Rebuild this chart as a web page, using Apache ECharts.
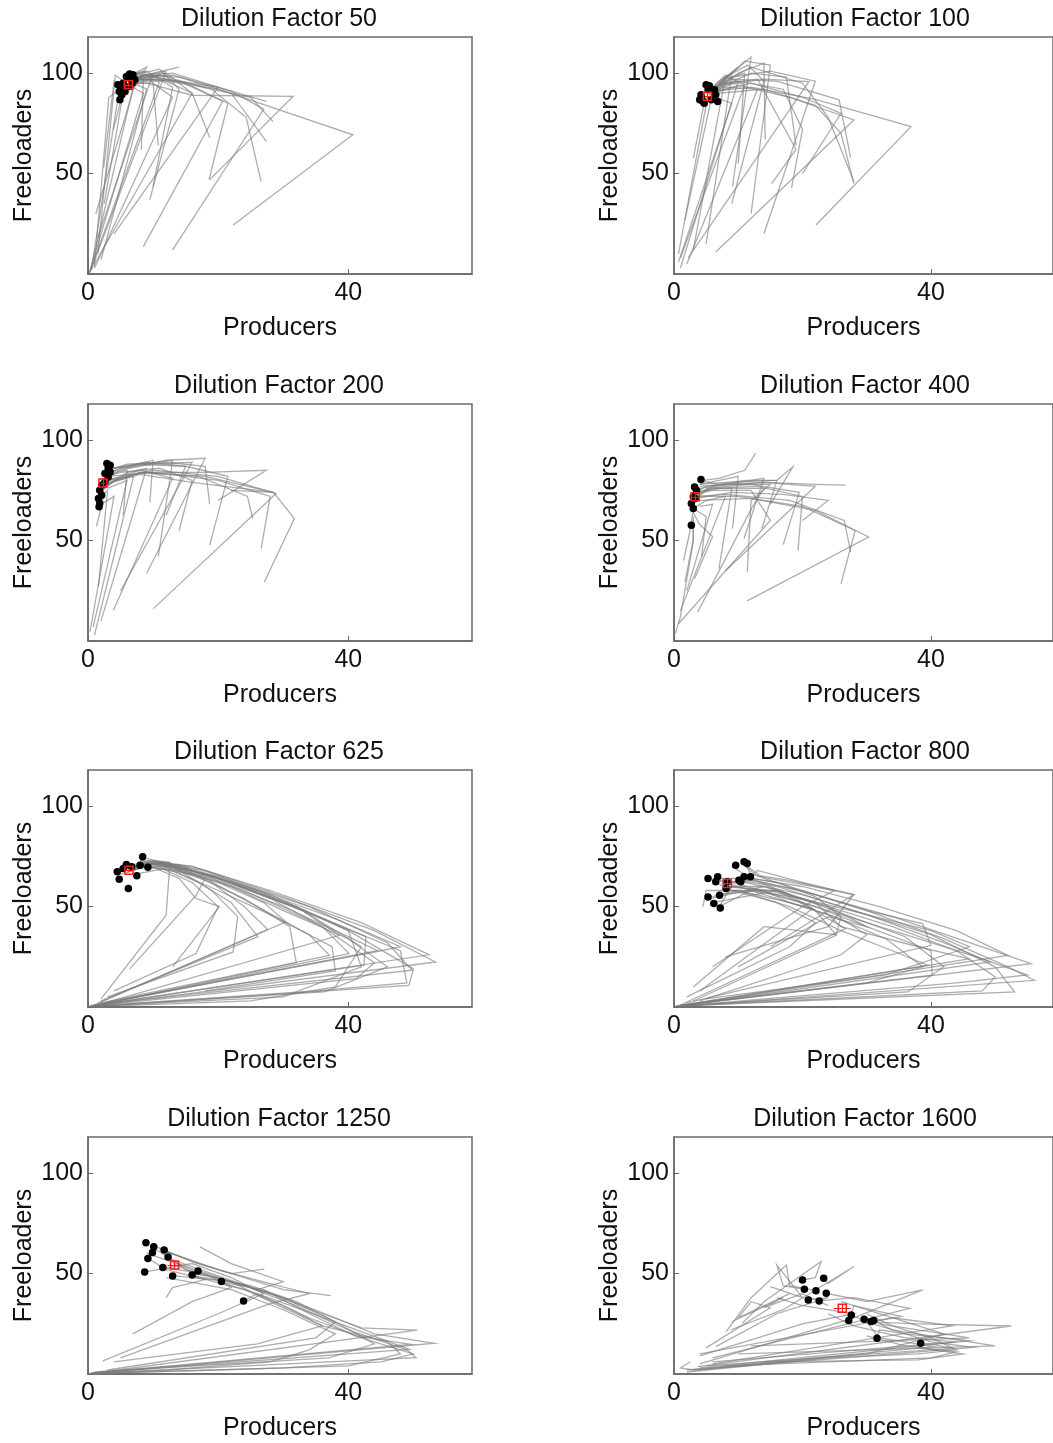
<!DOCTYPE html>
<html>
<head>
<meta charset="utf-8">
<script src="https://cdn.jsdelivr.net/npm/echarts@6/dist/echarts.min.js"></script>
<style>
html,body{margin:0;padding:0;background:#fff;}
#chart{width:1053px;height:1443px;}
</style>
</head>
<body>
<div id="chart"></div>
<script>
// ---------- data ----------
const dilutionFactors = [50, 100, 200, 400, 625, 800, 1250, 1600];
const xTicks = [0, 40];
const yTicks = [50, 100];

// trajectories [producers, freeloaders]
const traj50 = [
  [[0.2,0.5],[8.5,90],[6.3,94]],
  [[0.5,2],[5,96],[6,95]],
  [[1.5,10],[4.2,99],[5.5,96]],
  [[2,7],[9,92],[7,95]],
  [[0.2,0.5],[11,96],[8,97],[6.5,96]],
  [[1,4],[3.2,88],[5,92]],
  [[2.4,53],[4,96],[5.2,94]],
  [[8.5,13.6],[20.7,86],[14,96],[8,97],[6.5,95]],
  [[22.3,24.4],[40.7,69.3],[20,92],[10,98],[7,96]],
  [[26.6,46],[24.3,78],[19,92],[11,99],[7,97]],
  [[18.6,47],[21.5,85],[15,95],[9,99],[6.8,97]],
  [[27.4,66],[22,90],[14,98],[8,99]],
  [[28.4,76],[25,88],[16,94],[10,97],[7,96]],
  [[18.7,68],[16,90],[12,100],[8,99]],
  [[10,43.5],[13,93],[9,101],[6.5,99]],
  [[9.5,37],[14,92],[11,102],[7,99]],
  [[10.8,64],[10,95],[8.5,101],[6,99]],
  [[8.2,62],[8.5,97],[7,99]],
  [[3.9,72],[6,98],[6,96]],
  [[18.7,47],[31.5,88.4],[16,89],[9,95],[6.5,95]],
  [[27.4,86],[20,93],[12,97],[7,97]],
  [[13,12],[27,82],[22,91],[13,99],[8,98]],
  [[0.3,1],[16,90],[12,96],[7,96]],
  [[1,3],[13,88],[10,95],[6.5,95]],
  [[4,20],[20,93],[13,100],[7,98]],
  [[1.2,30],[7,92],[9,103],[6,98]],
  [[0.8,5],[12,101],[9,99],[6.5,97]],
  [[1.5,18],[10,100],[14,103],[10,100],[7,98]],
  [[0.4,2],[7,94],[11,99],[7.5,97]],
  [[2.5,35],[5.5,92],[8,100],[6.5,98]]
];
const traj100 = [
  [[22.1,24.4],[36.9,73.4],[22,87],[12,93],[6.5,91]],
  [[6.5,11],[28,76.7],[18,88],[10,94],[6,90]],
  [[28,45],[26,70],[22,84],[14,92],[7,90]],
  [[18.3,42.7],[20,72],[17,92],[10,96],[6,91]],
  [[15.2,45],[19,62],[13,97],[8,95]],
  [[14.2,67],[14,105],[10,100],[6.5,92]],
  [[19,64],[17.5,98],[12,100],[7,93]],
  [[9.1,43.5],[12,108],[9,100],[6,92]],
  [[2.2,8],[21,95.8],[14,97],[8,94],[6,90]],
  [[0.7,10],[5,84],[5,88]],
  [[1.7,27],[6,90],[5.5,89]],
  [[3,57.6],[4.5,82],[5,87]],
  [[0.7,6],[9,85],[6.5,88]],
  [[2,5],[13,92],[8,93],[6,90]],
  [[1,3],[10,96],[7,94],[5.5,90]],
  [[27.5,58],[25.7,86.7],[16,96],[9,97],[6,91]],
  [[28,46],[24,78],[20,95],[12,103],[7,94]],
  [[12,30],[15,104],[11,106],[8,97],[6,91]],
  [[14,20],[22,96],[15,101],[9,98],[6,92]],
  [[5,15],[9,100],[7,96],[5.5,91]],
  [[20,50],[26,80],[20,88],[12,95],[7,91]],
  [[10,55],[11,100],[8,97],[6,91]],
  [[9,35],[14,96],[11.5,104],[8,98],[6,92]],
  [[3,12],[8,98],[10,103],[7,95]],
  [[1,8],[11,94],[8,99],[6,93]]
];
const traj200 = [
  [[10,16],[28.9,73.4],[20,82],[10,85],[3,80]],
  [[27.1,29.4],[31.7,61],[28.5,74],[18,82],[8,84],[3,79]],
  [[26.6,46],[28,72],[20,80],[10,84],[3,82]],
  [[18.7,47.7],[21.5,82],[15,87],[8,88],[3.5,86]],
  [[25.3,61],[24.5,72],[17,82],[8,84],[3,78]],
  [[18.7,68],[18,87],[12,89],[6,88],[3,85]],
  [[12,62.6],[15,87],[9,89],[4,86]],
  [[10.8,42],[13,90],[8,88],[3,84]],
  [[9,33.6],[18,91],[12,90],[5,85],[2.5,80]],
  [[3.9,15.3],[13,81],[8,85],[3,80]],
  [[0.8,7],[6,80],[3,76]],
  [[0.3,4.5],[4,72],[2,68]],
  [[1.6,27],[3,75],[2,72]],
  [[1.3,57],[2.5,73],[2,71]],
  [[5.4,62.6],[6,85],[4,84]],
  [[9.5,69],[10,90],[6,87],[3.5,86]],
  [[20,70],[27.4,85],[18,84],[9,84],[3,80]],
  [[2,10],[9,86],[6,84],[2.5,76]],
  [[1,3],[7,82],[4,80],[2,74]],
  [[22,75],[28.5,74],[16,79],[8,83],[2.5,78]],
  [[5,25],[16,89],[10,88],[5,86],[3,83]],
  [[14,55],[16,80],[11,86],[5,84],[2.5,82]]
];
const traj400 = [
  [[11.4,20],[30.3,51.8],[22,65],[12,71],[4,70]],
  [[26,28.6],[28.2,55],[20,67],[10,72],[4,72]],
  [[27.5,44.4],[26.5,60],[18,70],[8,73],[3.5,72]],
  [[19.3,45],[20,72],[13,77],[6,76],[3.5,74]],
  [[11.4,34.4],[12,70],[15,78],[8,78],[4,76]],
  [[7,36],[9,76],[6,76],[3.5,73]],
  [[3.7,14.5],[12.2,66.8],[14,76],[7,76],[3.5,73]],
  [[0.7,8.6],[15,60],[12,75],[5,75],[3,70]],
  [[0.2,3.7],[1,12],[3,50],[3,62]],
  [[1.7,29.4],[3,50],[3,60]],
  [[4.3,42],[5,62],[3,66]],
  [[10.9,51],[14,81],[8,78],[4,77]],
  [[13.7,56],[16,80],[11,80],[5,77],[3.5,74]],
  [[9.1,56],[10,82],[7,80],[4,78]],
  [[26.7,77.6],[22,78],[14,79],[7,78],[4,80]],
  [[15,68],[18.5,86.7],[16,80],[8,79],[4,78]],
  [[12.7,93.4],[11,85],[7,81],[4.5,80]],
  [[20,60],[24,70],[17,73],[9,74],[3.5,71]],
  [[8,35],[22,77],[14,79],[6,77],[3.5,73]],
  [[17,48],[19.5,74],[12,78],[5,76]],
  [[1,15],[8,72],[5,70],[3,66]],
  [[2,25],[6,68],[4,67]],
  [[3.2,31],[6,52],[4,58],[3,64]],
  [[1.5,40],[2.5,55],[3,65]]
];
const traj625 = [
  [[0.2,0.3],[53.4,22.4],[44,38],[30,55],[18,68],[10,72],[7,70]],
  [[0.5,0.5],[52.4,26],[42,42],[28,58],[16,70],[9,72],[6,69]],
  [[0.3,0.2],[49.3,10.8],[50,19],[40,38],[26,58],[14,71],[8,71]],
  [[0.5,0.8],[49.8,18.3],[46,32],[34,50],[20,65],[10,72],[7,68]],
  [[0.2,0.3],[42.4,20.8],[42.7,35],[32,50],[20,64],[11,72],[6,68]],
  [[1,0.5],[38.6,35.7],[32,50],[22,62],[12,72],[8,73]],
  [[0.3,0.2],[40.1,26.6],[36,40],[28,54],[18,66],[10,72],[6,67]],
  [[2,2],[37.1,25.7],[34,36],[26,50],[18,64],[10,71],[5,66]],
  [[1,1],[30.4,42.4],[27,52],[20,62],[13,70],[7,69]],
  [[1.5,2],[27.6,38.6],[24,50],[19,62],[12,70],[6,70]],
  [[2,3],[26.1,35],[22,52],[17,62],[12,69],[7,66]],
  [[3,5],[22.3,27.4],[23,45],[19,58],[13,70],[8,72]],
  [[6.4,19],[16.6,55.6],[18,64],[11,72],[7,71]],
  [[2,4],[12,45.7],[12.6,72],[10,73],[6,69]],
  [[4,8],[16.6,26.6],[20,50],[16,62],[10,71],[6,70]],
  [[1,1],[45,28],[48,30],[38,44],[26,58],[14,70],[9,74]],
  [[0.5,0.5],[44.5,28],[40,35],[30,50],[18,65],[10,72]],
  [[13,20],[20.2,50],[16.6,54],[14,64],[9,71],[5,68]],
  [[0.5,0.3],[30,5],[42,20],[40,38],[28,56],[16,70],[9,73]],
  [[0.2,0.1],[25,3],[38,10],[42,30],[33,48],[20,64],[11,72]],
  [[1,0.5],[35,8],[49,12],[48,28],[36,44],[22,62],[12,72],[7,69]],
  [[18,8],[38,18],[37.5,30],[28,46],[20,58],[13,68],[8,70]],
  [[0.3,0.3],[41.2,14.1],[44,22],[36,40],[24,58],[15,69],[9,72]],
  [[0.4,0.2],[36.3,7.5],[46,20],[40,34],[30,48],[22,60],[14,68],[8,73]],
  [[1,0.8],[32,22],[31,40],[24,54],[16,66],[9,70]]
];
const traj800 = [
  [[0.2,0.3],[55.6,21.6],[46,32],[34,45],[22,56],[14,62],[10,64]],
  [[0.3,0.2],[56.1,13.3],[52,20],[42,34],[30,48],[20,58],[12,63],[8,62]],
  [[0.5,0.5],[53,7.5],[50,20],[40,36],[26,50],[16,60],[10,63]],
  [[0.2,0.2],[52,25.7],[44,38],[32,50],[20,60],[12,64],[7,64]],
  [[1,0.5],[49.2,22.4],[42,32],[30,46],[20,56],[11,62],[6,63]],
  [[0.5,0.5],[45.9,24],[38,30],[26,40],[22,52],[14,60],[8,60]],
  [[1,1],[40.2,15.8],[40,28],[30,40],[22,50],[13,58],[7,56]],
  [[0.5,0.3],[39.5,20.8],[34,28],[26,38],[18,50],[10,58],[6,55]],
  [[2,2],[40,30.7],[38.7,41.5],[30,48],[22,56],[14,64],[11,71]],
  [[3,3],[25.2,35.7],[26,45],[22,55],[16,62],[10,65]],
  [[1,1],[26.7,39],[24,44],[18,56],[12,64],[9,70]],
  [[4,8],[21.6,49],[18,52],[14,58],[9,60],[7,50]],
  [[6,20],[20,50],[25,58],[18,63],[12,66],[11,72]],
  [[8,25],[24,40],[28,56],[20,62],[13,68],[12,65]],
  [[3,10],[14,40],[25.2,36],[22,48],[16,58],[8,58]],
  [[1,0.5],[48,8],[50,15],[44,28],[34,40],[24,50],[15,58],[8,60]],
  [[0.5,0.5],[36.4,7.5],[42,20],[36,35],[25,48],[16,58],[6,52]],
  [[10,20],[24,45],[30,40],[24,50],[14,60],[5.5,54]],
  [[15,30],[28,56],[20,61],[13,65],[10.5,72]],
  [[2,5],[18,30],[22,42],[16,52],[9,58],[6.5,62]],
  [[5,4],[33,16],[46,30],[40,38],[30,46],[20,54],[12,58],[7,50]],
  [[0.3,0.3],[44,12],[55,16],[48,24],[38,34],[26,46],[16,56],[9,62]],
  [[0.4,0.4],[30,12],[38.7,20],[33,34],[24,46],[15,55],[6,64]],
  [[4,3],[26,26],[30,36],[26,44],[18,52],[10,58],[5,58],[4.5,50]]
];
const traj1250 = [
  [[0.3,0.2],[53.2,15.3],[44,20],[38,28],[30,38],[22,46],[15,52],[13,55]],
  [[0.5,0.3],[50.4,8.1],[49,12],[40,22],[32,34],[24,44],[17,50],[12,58]],
  [[1,0.5],[50.6,21.8],[42,23],[36,30],[28,40],[20,48],[16,50]],
  [[0.5,0.5],[49.6,14.8],[41,19],[34,30],[27,42],[20,46]],
  [[2,1],[49.4,12.3],[39.6,24],[32,33],[26,40],[23.9,36.4]],
  [[1,1],[37,8],[44,15],[38,26],[30,38],[22,46],[13,49]],
  [[3,2],[35,18],[38,26],[32,36],[25,44],[16,49]],
  [[6.9,20],[16,36],[22,43],[18,50],[11.5,53]],
  [[2.3,6.5],[20,30],[27,40],[22,48],[16,55],[9,51]],
  [[5,8],[28,35],[34,40],[28,45],[20,52],[12,61]],
  [[17.2,63.3],[22,55],[30,46],[26,42],[19,50],[12,58]],
  [[27.1,52.2],[22,50],[16,56],[10,64]],
  [[37.3,39],[30,42],[24,48],[17,55],[11,62]],
  [[0.2,0.2],[30,3],[45,6],[50,10],[42,18],[34,28],[26,40],[20,46]],
  [[0.5,0.3],[20,2],[40,4],[48,10],[46,16],[36,24],[28,36],[22,46],[9,60]],
  [[4,6],[26,15],[36,24],[30,34],[24,42],[17,48],[10,63]],
  [[12,38],[13,43],[18,47],[12,52],[9,58]],
  [[0.5,0.5],[12,2],[28,6],[34,12],[38,20],[30,32],[22,42],[12,48]]
];
const traj1600 = [
  [[3.7,3.7],[52.5,23.9],[38,25],[30,26],[27.6,29.4]],
  [[4,3],[46.1,16.6],[36,20],[32,22],[31.6,17.8]],
  [[5,4],[43.1,12.8],[40,15],[38.4,15.3]],
  [[6,5],[43.3,24],[34,28],[30.7,26.1]],
  [[3,2],[46.6,13.3],[40,16],[34,22],[31.1,26.6]],
  [[2,2],[40.5,13.6],[32,18],[29.6,27.2]],
  [[4,5],[28,28],[38.7,41.9],[30,36],[23.7,40.2]],
  [[6,8],[36.7,32.7],[28,38],[22.6,36.4]],
  [[8.8,21.9],[17,32],[28,53.5],[24,45],[23.3,47.7]],
  [[10.6,25.2],[14,36],[22.9,56],[22,48],[20,46.8]],
  [[15,43.5],[20,38],[16,54.3],[17,44],[20.3,42.2]],
  [[8.1,21],[12,38],[17.5,54.3],[18,44],[22.1,41.5]],
  [[6.5,13.6],[16,30],[24,38],[20.9,36.9]],
  [[4,10],[35.4,28.6],[28,34],[27.2,26.6]],
  [[2,1],[24,8],[38,10],[44,12],[40,18],[34,24],[30,30]],
  [[3,2],[30,10],[42,20],[30,32],[26,36]],
  [[9,26],[17,38],[14,33],[20,40],[24,34]],
  [[5,13],[15,33],[12,36],[10,28],[18,40]],
  [[4,9],[20,25],[28,30],[20,34],[16,38]],
  [[6,6],[44,16],[36,18],[28,24],[24,30]],
  [[10,10],[50,14],[42,18],[34,22],[30,26]],
  [[12,14],[46,18],[38,22],[32,25]],
  [[1.5,4],[2.5,6],[1,3],[3,2]],
  [[8,4],[40,8],[44,11],[36,14],[30,19]],
  [[14,6],[38,7],[45,10],[38,13]]
];
const trajectories = [traj50, traj100, traj200, traj400, traj625, traj800, traj1250, traj1600];

// final states (black dots)
const ends50 = [[4.9,86.7],[5.2,89.2],[4.8,90.9],[5.0,93.4],[5.4,95.0],[5.9,98.3],[6.4,99.6],[6.9,99.2],[7.2,96.7],[6.7,96.7],[5.3,92.0],[5.7,90.9],[4.6,94.2],[6.4,93.4],[6.8,95.0]];
const ends100 = [[4.0,86.7],[4.2,89.2],[5.0,94.2],[5.5,93.7],[6.3,91.7],[6.8,85.9],[6.5,89.2],[4.5,85.9],[4.7,85.0],[5.8,86.7],[5.3,91.7],[4.3,87.5]];
const ends200 = [[2.9,88.4],[3.4,87.5],[3.1,85.9],[2.6,83.4],[3.1,81.7],[2.1,77.6],[1.8,75.1],[2.1,72.6],[1.6,70.9],[1.8,68.4],[1.7,66.8],[2.6,79.2],[3.4,84.2]];
const ends400 = [[4.2,80.4],[3.2,76.7],[3.5,75.1],[3.0,71.8],[2.7,68.4],[3.0,66.0],[2.7,57.6],[3.3,70.9]];
const ends625 = [[8.4,74.8],[5.9,70.9],[4.5,67.3],[4.8,63.6],[6.2,59.0],[7.5,65.3],[8.0,70.6],[9.2,69.6],[5.4,68.9],[6.7,69.8]];
const ends800 = [[10.9,72.3],[11.4,71.4],[9.6,70.6],[5.3,64.0],[6.8,64.8],[6.5,62.3],[8.3,62.3],[10.1,63.1],[11.9,64.8],[10.4,62.3],[8.1,59.0],[7.1,55.6],[5.3,54.8],[6.2,51.5],[7.2,49.3],[10.9,64.8]];
const ends1250 = [[8.9,65.4],[10.1,63.3],[9.9,60.5],[9.2,57.5],[11.7,61.8],[12.3,58.3],[11.5,53.0],[8.7,50.8],[13.0,48.8],[16.0,49.3],[16.9,51.3],[20.5,46.0],[23.9,36.4]];
const ends1600 = [[20.0,46.8],[23.3,47.7],[20.3,42.2],[22.1,41.5],[23.7,40.2],[20.9,36.9],[22.6,36.4],[27.6,29.4],[27.2,26.6],[29.6,27.2],[30.7,26.1],[31.1,26.6],[31.6,17.8],[38.4,15.3]];
const endpoints = [ends50, ends100, ends200, ends400, ends625, ends800, ends1250, ends1600];

// mean final state and its spread: [x, y, errX, errY]
const means = [[6.2,94.2,0.5,1.2],[5.2,88.5,0.4,1.3],[2.3,78.7,0.3,1.8],[3.3,71.8,0.4,1.8],
               [6.3,68.1,0.6,1.0],[8.3,61.5,0.8,1.8],[13.3,54.3,1.1,2.3],[26.2,32.7,1.3,1.8]];

// ---------- chart ----------
const FONT = '"Liberation Sans", Arial, sans-serif';
const TXT = '#111';
const FRAME = '#6a6a6a';
const lefts = [88, 674];
const tops = [37, 404, 770, 1137];
const W = 384, H = 237;

const grid = [], xAxis = [], yAxis = [], series = [], title = [];
dilutionFactors.forEach((df, i) => {
  const col = i % 2, row = Math.floor(i / 2);
  const left = lefts[col], top = tops[row];
  grid.push({left: left, top: top, width: W, height: H, show: true,
    borderColor: FRAME, borderWidth: 1.5, backgroundColor: '#fff', containLabel: false});
  title.push({text: 'Dilution Factor ' + df, left: left + W / 2 - 6, top: top - 35, textAlign: 'center',
    textStyle: {fontFamily: FONT, fontSize: 25, fontWeight: 'normal', color: TXT}});
  xAxis.push({gridIndex: i, type: 'value', min: 0, max: 59, interval: 40,
    name: 'Producers', nameLocation: 'middle', nameGap: 42,
    nameTextStyle: {fontFamily: FONT, fontSize: 25, color: TXT},
    axisLine: {show: true, lineStyle: {color: FRAME, width: 1.5}},
    axisTick: {show: true, inside: true, length: 5, lineStyle: {color: FRAME}},
    axisLabel: {fontFamily: FONT, fontSize: 25, color: TXT, margin: 7, showMaxLabel: false,
      formatter: v => (xTicks.indexOf(v) >= 0 ? String(v) : '')},
    splitLine: {show: false}});
  yAxis.push({gridIndex: i, type: 'value', min: 0, max: 118, interval: 50,
    name: 'Freeloaders', nameLocation: 'middle', nameGap: 51,
    nameTextStyle: {fontFamily: FONT, fontSize: 25, color: TXT},
    axisLine: {show: true, lineStyle: {color: FRAME, width: 1.5}},
    axisTick: {show: true, inside: true, length: 5, lineStyle: {color: FRAME}},
    axisLabel: {fontFamily: FONT, fontSize: 25, color: TXT, margin: 5, showMaxLabel: false,
      formatter: v => (yTicks.indexOf(v) >= 0 ? String(v) : '')},
    splitLine: {show: false}});

  series.push({type: 'lines', coordinateSystem: 'cartesian2d', xAxisIndex: i, yAxisIndex: i,
    polyline: true, silent: true, z: 2,
    lineStyle: {color: '#7a7a7a', width: 1.3, opacity: 0.62},
    data: trajectories[i].map(c => ({coords: c}))});
  series.push({type: 'scatter', xAxisIndex: i, yAxisIndex: i, symbol: 'circle', symbolSize: 7.5,
    itemStyle: {color: '#000', opacity: 1}, z: 3, silent: true, data: endpoints[i]});
  const m = means[i];
  series.push({type: 'lines', coordinateSystem: 'cartesian2d', xAxisIndex: i, yAxisIndex: i,
    polyline: false, silent: true, z: 4, lineStyle: {color: '#ff1a1a', width: 1.2, opacity: 1},
    data: [{coords: [[m[0] - m[2], m[1]], [m[0] + m[2], m[1]]]},
           {coords: [[m[0], m[1] - m[3]], [m[0], m[1] + m[3]]]}]});
  series.push({type: 'scatter', xAxisIndex: i, yAxisIndex: i, symbol: 'rect', symbolSize: 8,
    itemStyle: {color: 'rgba(0,0,0,0)', borderColor: '#ff1a1a', borderWidth: 1.6, opacity: 1}, z: 5, silent: true,
    data: [[m[0], m[1]]]});
});

const chart = echarts.init(document.getElementById('chart'), null, {renderer: 'canvas'});
chart.setOption({animation: false, backgroundColor: '#fff', title, grid, xAxis, yAxis, series});
</script>
</body>
</html>
